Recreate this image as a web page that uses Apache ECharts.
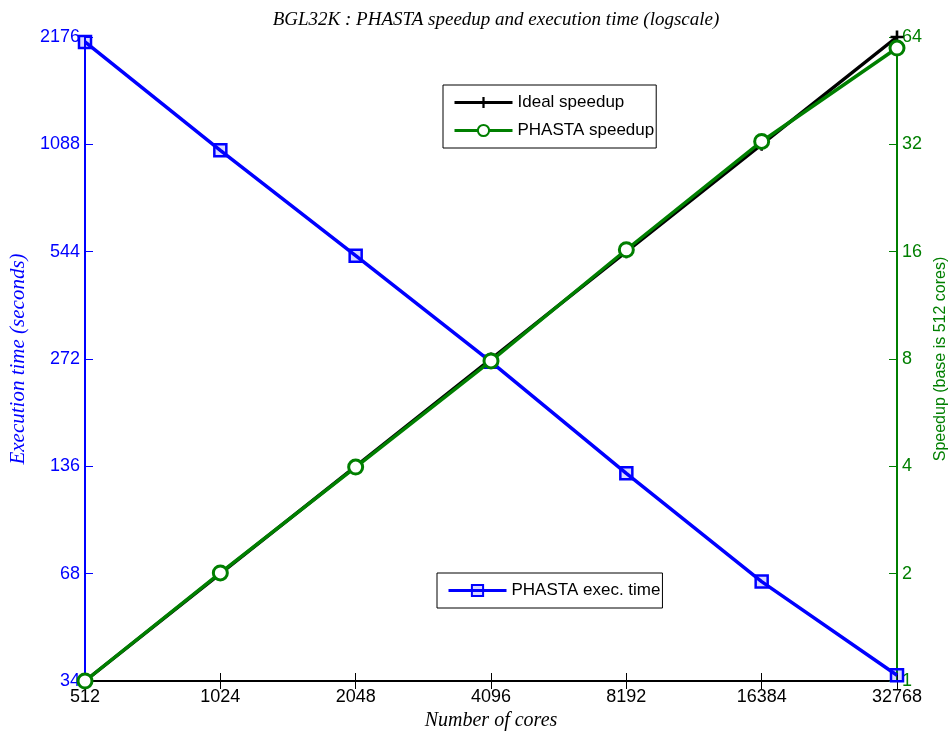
<!DOCTYPE html>
<html>
<head>
<meta charset="utf-8">
<script src="https://cdn.jsdelivr.net/npm/echarts@6/dist/echarts.min.js"></script>
<style>
  html, body { margin: 0; padding: 0; background: #fff; }
  #chart { width: 952px; height: 731px; }
</style>
</head>
<body>
<div id="chart"></div>
<script>
const cores = ['512', '1024', '2048', '4096', '8192', '16384', '32768']
const execTime = [2107, 1047, 530, 267, 130, 64.6, 35.3]
const idealSpeedup = [1, 2, 4, 8, 16, 32, 64]
const phastaSpeedup = [1, 2.01, 3.98, 7.9, 16.2, 32.6, 59.6]
const timeTicks = [34, 68, 136, 272, 544, 1088, 2176]
const speedTicks = [1, 2, 4, 8, 16, 32, 64]

const BLUE = '#0000ff'
const GREEN = '#007f00'
const SERIF = '"Liberation Serif", "DejaVu Serif", serif'
const SANS = '"Liberation Sans", Arial, sans-serif'

// log2 scale drawn on a linear axis, labels come from the tick arrays
const toTime = (v) => Math.log2(v / timeTicks[0])
const toSpeed = (v) => Math.log2(v / speedTicks[0])

const plusPath = 'path://M4,0h2v4h4v2h-4v4h-2v-4h-4v-2h4z'

const chart = echarts.init(document.getElementById('chart'))

const legendBase = {
  padding: [9, 2, 9, 10],
  itemWidth: 58, itemHeight: 14,
  borderColor: '#000', borderWidth: 1, borderRadius: 0,
  lineStyle: { width: 3 },
  textStyle: { fontFamily: SANS, fontSize: 17, color: '#000' },
}

chart.setOption({
  animation: false,
  title: {
    text: 'BGL32K : PHASTA speedup and execution time (logscale)',
    left: 491, top: 5, textAlign: 'center',
    textStyle: { fontFamily: SERIF, fontStyle: 'italic', fontWeight: 'normal', fontSize: 19, color: '#000' },
  },
  grid: { left: 85, right: 55, top: 37, bottom: 50, containLabel: false, outerBoundsMode: 'none' },
  legend: [
    Object.assign({}, legendBase, {
      data: ['Ideal speedup', 'PHASTA speedup'],
      orient: 'vertical', left: 443, top: 85, itemGap: 11,
    }),
    Object.assign({}, legendBase, {
      data: ['PHASTA exec. time'],
      left: 437, top: 573,
    }),
  ],
  xAxis: [
    {
      type: 'category', data: cores, boundaryGap: false,
      name: 'Number of cores', nameLocation: 'middle', nameGap: 28,
      nameTextStyle: { fontFamily: SERIF, fontStyle: 'italic', fontSize: 20, color: '#000' },
      axisLine: { lineStyle: { color: '#000', width: 2 } },
      axisTick: { inside: true, length: 8, lineStyle: { color: '#000', width: 1 } },
      axisLabel: { fontFamily: SANS, fontSize: 18, color: '#000', margin: 7 },
      splitLine: { show: false },
    },
    {
      type: 'category', data: cores, boundaryGap: false, position: 'top',
      axisLine: { lineStyle: { color: '#000', width: 2 } },
      axisTick: { inside: true, length: 8, lineStyle: { color: '#000', width: 1 } },
      axisLabel: { show: false },
    },
  ],
  yAxis: [
    {
      type: 'value', min: 0, max: 6, interval: 1, position: 'left',
      name: 'Execution time (seconds)', nameLocation: 'middle', nameGap: 54,
      nameTextStyle: { fontFamily: SERIF, fontStyle: 'italic', fontSize: 21, color: BLUE },
      axisLine: { show: true, lineStyle: { color: BLUE, width: 2 } },
      axisTick: { show: true, inside: true, length: 8, lineStyle: { color: BLUE, width: 1 } },
      axisLabel: { fontFamily: SANS, fontSize: 18, color: BLUE, margin: 5, formatter: (v) => timeTicks[v] },
      splitLine: { show: false },
    },
    {
      type: 'value', min: 0, max: 6, interval: 1, position: 'right',
      name: 'Speedup (base is 512 cores)', nameLocation: 'middle', nameGap: 35,
      nameTextStyle: { fontFamily: SANS, fontSize: 16, color: GREEN },
      axisLine: { show: true, lineStyle: { color: GREEN, width: 2 } },
      axisTick: { show: true, inside: true, length: 8, lineStyle: { color: GREEN, width: 1 } },
      axisLabel: { fontFamily: SANS, fontSize: 18, color: GREEN, margin: 5, formatter: (v) => speedTicks[v] },
      splitLine: { show: false },
    },
  ],
  series: [
    {
      name: 'PHASTA exec. time', type: 'line', yAxisIndex: 0,
      data: execTime.map(toTime),
      symbol: 'rect', symbolSize: 12,
      lineStyle: { color: BLUE, width: 3.5 },
      itemStyle: { color: 'rgba(0,0,255,0.15)', borderColor: BLUE, borderWidth: 2.5 },
      clip: false, z: 2,
    },
    {
      name: 'Ideal speedup', type: 'line', yAxisIndex: 1,
      data: idealSpeedup.map(toSpeed),
      symbol: plusPath, symbolSize: 13,
      lineStyle: { color: '#000', width: 3.5 },
      itemStyle: { color: '#000' },
      clip: false, z: 3,
    },
    {
      name: 'PHASTA speedup', type: 'line', yAxisIndex: 1,
      data: phastaSpeedup.map(toSpeed),
      symbol: 'circle', symbolSize: 14,
      lineStyle: { color: GREEN, width: 3.5 },
      itemStyle: { color: '#fff', borderColor: GREEN, borderWidth: 3 },
      clip: false, z: 4,
    },
  ],
})
</script>
</body>
</html>
